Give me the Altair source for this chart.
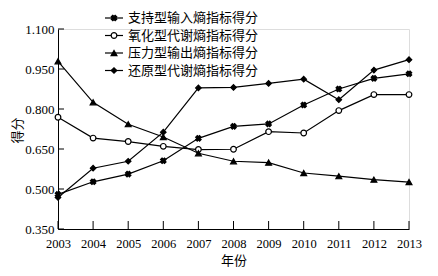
import altair as alt
import pandas as pd

years = [2003, 2004, 2005, 2006, 2007, 2008, 2009, 2010, 2011, 2012, 2013]
names = ["支持型输入熵指标得分", "氧化型代谢熵指标得分", "压力型输出熵指标得分", "还原型代谢熵指标得分"]
s1 = [0.480, 0.527, 0.556, 0.606, 0.690, 0.735, 0.744, 0.815, 0.875, 0.915, 0.932]
s2 = [0.769, 0.691, 0.678, 0.660, 0.648, 0.649, 0.715, 0.710, 0.794, 0.854, 0.854]
s3 = [0.979, 0.825, 0.743, 0.695, 0.634, 0.604, 0.599, 0.560, 0.548, 0.535, 0.526]
s4 = [0.468, 0.578, 0.604, 0.713, 0.879, 0.881, 0.896, 0.912, 0.835, 0.946, 0.985]
y_ticks = [0.35, 0.5, 0.65, 0.8, 0.95, 1.1]

series = [s1, s2, s3, s4]
shapes = ["cross", "circle", "triangle-up", "diamond"]
fills = ["black", "white", "black", "black"]
angles = [45, 0, 0, 0]
sizes = [30, 32, 34, 30]

rows = []
for n, vals in zip(names, series):
    for yr, v in zip(years, vals):
        rows.append({"series": n, "year": yr, "value": v})
df = pd.DataFrame(rows)

NUMFONT = "Liberation Serif"
CJK = "Noto Sans CJK SC"
xs = alt.Scale(domain=[2003, 2013], nice=False, zero=False)
ys = alt.Scale(domain=[0.35, 1.1], nice=False, zero=False)

ax_x = alt.Axis(values=years, format="d", tickSize=0, labelPadding=8, grid=False,
                labelOverlap=False, labelBound=False, labelFlush=False,
                domainColor="black", labelFont=NUMFONT, labelFontSize=12.5, labelColor="black",
                title="年份", titleFont=CJK, titleFontSize=13, titleFontWeight="normal",
                titleColor="black", titlePadding=5)
ax_y = alt.Axis(values=y_ticks, format=".3f", tickSize=0, labelPadding=4, grid=False,
                labelOverlap=False, labelBound=False, labelFlush=False,
                domainColor="black", labelFont=NUMFONT, labelFontSize=13, labelColor="black",
                title="得分", titleFont=CJK, titleFontSize=13, titleFontWeight="normal",
                titleColor="black", titleX=-41, titleY=101, titleAngle=270,
                titleBaseline="middle", titleAlign="center")

base = alt.Chart(df)
lines = base.mark_line(color="black", strokeWidth=1.2).encode(
    x=alt.X("year:Q", scale=xs, axis=ax_x),
    y=alt.Y("value:Q", scale=ys, axis=ax_y),
    detail="series:N",
)

layers = [lines]
for n, sh, f, a, sz in zip(names, shapes, fills, angles, sizes):
    layers.append(
        base.transform_filter(alt.datum.series == n).mark_point(
            shape=sh, filled=True, fill=f, stroke="black", strokeWidth=1.2, angle=a, size=sz, opacity=1
        ).encode(x=alt.X("year:Q", scale=xs, axis=ax_x), y=alt.Y("value:Q", scale=ys, axis=ax_y))
    )

# inward ticks
ytick_df = pd.DataFrame({"v": y_ticks})
ytk = alt.Chart(ytick_df).mark_rule(color="black", strokeWidth=1).encode(
    y=alt.Y("v:Q", scale=ys, axis=ax_y), x=alt.value(0), x2=alt.value(6))
xtick_df = pd.DataFrame({"yr": years})
xtk = alt.Chart(xtick_df).mark_rule(color="black", strokeWidth=1).encode(
    x=alt.X("yr:Q", scale=xs, axis=ax_x), y=alt.value(200), y2=alt.value(192))
layers += [ytk, xtk]

# custom legend
leg_df = pd.DataFrame({"series": names, "i": [0, 1, 2, 3]})
leg = alt.Chart(leg_df).transform_calculate(ly="-11 + 17.5*datum.i")
layers.append(leg.mark_rule(color="black", strokeWidth=1.2).encode(
    y=alt.Y("ly:Q", scale=None), x=alt.value(47), x2=alt.value(65)))
for idx, (sh, f, a, sz) in enumerate(zip(shapes, fills, angles, sizes)):
    layers.append(leg.transform_filter(alt.datum.i == idx).mark_point(
        shape=sh, filled=True, fill=f, stroke="black", strokeWidth=1.2, angle=a, size=sz, opacity=1
    ).encode(y=alt.Y("ly:Q", scale=None), x=alt.value(56)))
layers.append(leg.mark_text(align="left", baseline="middle", font=CJK, fontSize=13, color="black").encode(
    y=alt.Y("ly:Q", scale=None), x=alt.value(70), text="series:N"))

chart = alt.layer(*layers).properties(
    width=351, height=200,
    autosize=alt.AutoSizeParams(type="none"),
    padding={"left": 50, "top": 21, "right": 21, "bottom": 39},
).configure_view(stroke=None).configure(background="white")

chart.save("out.html", embed_options={"renderer": "svg", "actions": False})
